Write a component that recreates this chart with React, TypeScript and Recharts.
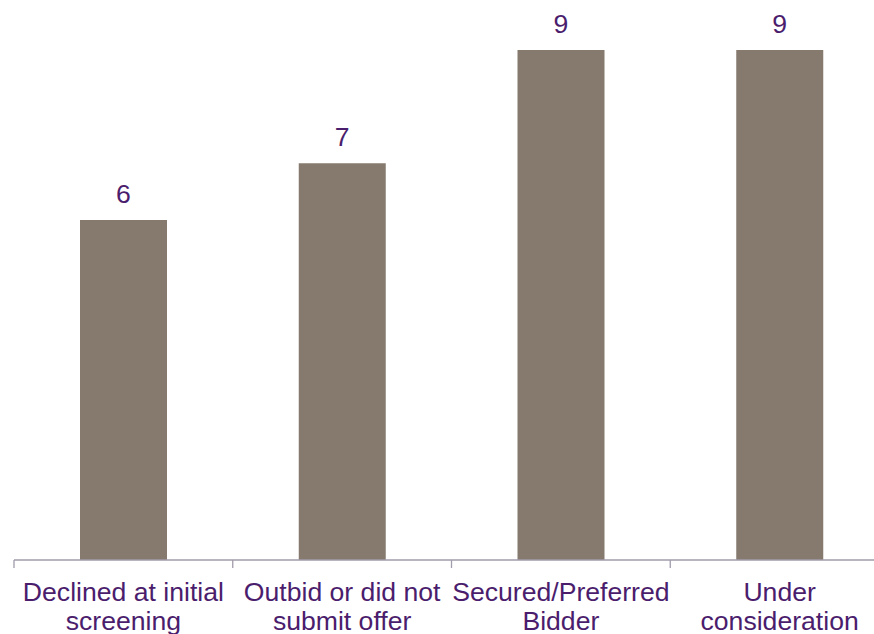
import React from "react";
import { BarChart, Bar, XAxis, YAxis, LabelList } from "recharts";

const categories = [
  "Declined at initial\nscreening",
  "Outbid or did not\nsubmit offer",
  "Secured/Preferred\nBidder",
  "Under\nconsideration",
];
const counts = [6, 7, 9, 9];

const data = categories.map((c, i) => ({ name: c, value: counts[i] }));

const FONT = "'Liberation Sans', Arial, sans-serif";
const PURPLE = "#4b1d6d";
const AXIS = "#a29cab";

const CategoryTick = (props: any) => {
  const { x, y, payload } = props;
  const half = payload && typeof payload.offset === "number" && payload.offset > 0 ? payload.offset : 109.3;
  const lines = String(payload.value).split("\n");
  return (
    <g>
      <line x1={x - half} x2={x - half} y1={y - 8} y2={y} stroke={AXIS} strokeWidth={1.3} />
      <text x={x} y={y} textAnchor="middle" fontFamily={FONT} fontSize={26.6} fill={PURPLE}>
        {lines.map((l, i) => (
          <tspan key={i} x={x} y={y + 33 + i * 29}>
            {l}
          </tspan>
        ))}
      </text>
    </g>
  );
};

export default function App() {
  return (
    <div style={{ position: "absolute", left: 0, top: 0, width: 874, height: 634, overflow: "hidden", background: "#fff" }}>
      <BarChart
        width={889}
        height={634}
        data={data}
        margin={{ top: 50, right: 0, bottom: 4, left: 14 }}
      >
        <XAxis
          dataKey="name"
          height={70}
          interval={0}
          axisLine={{ stroke: AXIS, strokeWidth: 1.3 }}
          tickLine={false}
          tick={<CategoryTick />}
        />
        <YAxis hide domain={[0, 9]} />
        <Bar dataKey="value" fill="#867a6e" barSize={87} isAnimationActive={false}>
          <LabelList
            dataKey="value"
            position="top"
            offset={17}
            fill={PURPLE}
            fontSize={26.6}
            fontFamily={FONT}
          />
        </Bar>
      </BarChart>
    </div>
  );
}
